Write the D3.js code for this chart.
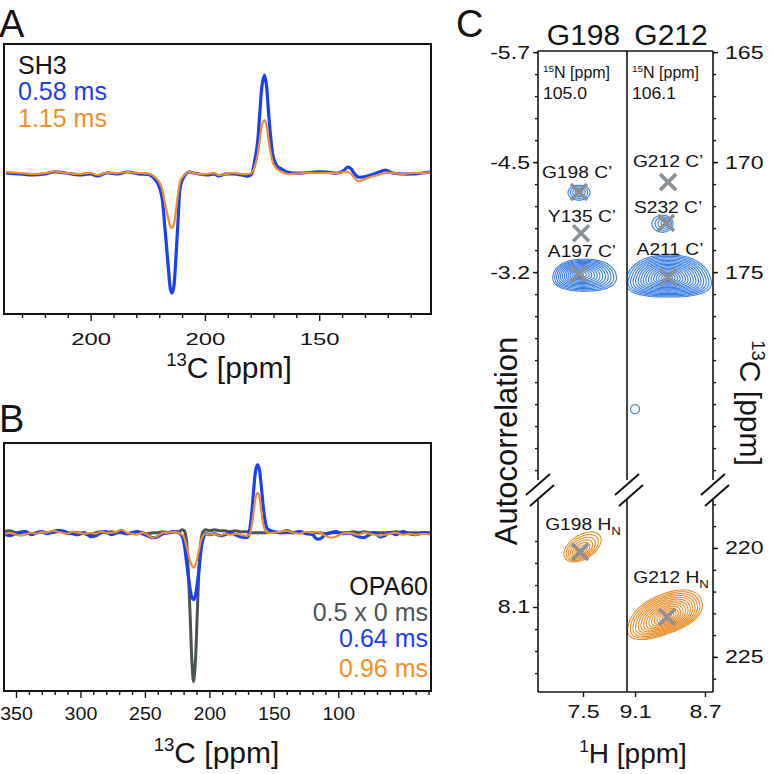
<!DOCTYPE html>
<html><head><meta charset="utf-8">
<script src="https://cdn.jsdelivr.net/npm/d3@7/dist/d3.min.js"></script>
<style>
html,body{margin:0;padding:0;background:#fff;}
svg text{font-family:"Liberation Sans",Arial,Helvetica,sans-serif;}
</style></head><body>
<svg id="fig" width="773" height="774"></svg>
<script>
// ================= DATA =================
// ---- Panel A (SH3) : 13C ppm grid and intensities ----
const aPpm = [287,281,275,270,266,261,255,250,247,243,
  238,234,229,224,221,219,217.5,216,215,214.4,
  213.7,212.7,211.7,210.6,209,207,205,202.6,199,196,
  194,191,187,184,181,179.6,178.4,177,176,175,
  174,173.2,172.3,171.2,170,168.5,166.5,164,162,157,
  152,147,142,139.5,137.5,136,134.5,133,131,129,
  126,122.5,121,118,114,109,105,101];
const aBlue = [0.00,-0.01,-0.02,-0.01,0.01,0.00,-0.02,-0.01,-0.03,0.00,
  -0.01,0.01,-0.01,-0.02,-0.09,-0.22,-0.55,-0.95,-1.17,-1.20,
  -1.15,-0.85,-0.45,-0.12,-0.03,0.01,0.00,-0.01,-0.02,-0.01,
  -0.03,-0.01,-0.01,-0.02,-0.03,-0.01,0.10,0.30,0.60,0.88,
  0.98,0.90,0.65,0.35,0.15,0.07,0.04,0.01,0.00,0.00,
  0.01,0.01,0.00,0.02,0.06,0.04,-0.01,-0.04,-0.04,-0.03,
  -0.01,0.02,0.03,0.00,-0.01,-0.01,0.00,0.01];
const aOrange = [0.01,0.00,-0.01,0.00,0.015,0.00,-0.01,0.00,-0.02,0.00,
  0.00,0.01,0.00,-0.01,-0.06,-0.14,-0.30,-0.46,-0.54,-0.55,
  -0.52,-0.38,-0.20,-0.07,-0.02,0.01,0.00,-0.01,-0.01,0.00,
  -0.02,-0.01,0.00,-0.01,-0.01,0.00,0.05,0.17,0.33,0.48,
  0.53,0.49,0.36,0.20,0.09,0.04,0.01,-0.01,-0.01,0.00,
  0.00,0.00,0.00,0.01,0.01,-0.01,-0.05,-0.08,-0.07,-0.05,
  -0.03,-0.01,0.00,0.00,-0.01,0.00,0.00,0.01];
const aTickValues = [250, 200, 150];
const aTickLabels = ["200", "200", "150"];
const aMinorTicks = [280,270,260,240,230,220,210,190,180,170,160,140,130,120,110];
const aLegend = ["SH3", "0.58 ms", "1.15 ms"];

// ---- Panel B (OPA60) ----
const bPpm = [360,355,350,346,343,338,334,330,326,322,
  318,314,310,306,302,297,292,288,284,280,
  276,272,268,264,260,256,252,248,244,240,
  236,232,228,224,221,219.5,218,216.5,215,213.5,
  212.3,211,209.5,208,206.5,205,203,200,196,192,
  188,184,180,176,172,170,168.5,167,165.5,164,
  162.6,161.2,160,158.5,157,155,150,145,140,135,
  130,125,120,117,114,110,106,102,97,92,
  88,84,80,76,72,68,64,60,55,50,
  45,40,34,28];
const bGray = [0.01,0.02,0.00,0.01,0.01,-0.01,0.00,0.01,0.00,0.00,
  0.01,0.01,-0.01,0.00,0.00,-0.01,-0.02,0.00,0.01,0.00,
  0.01,0.00,0.00,-0.01,0.00,0.01,0.00,-0.01,0.00,0.00,
  0.01,0.00,0.01,0.01,0.03,0.02,-0.05,-0.35,-0.80,-1.30,
  -1.49,-1.32,-0.85,-0.35,-0.08,0.01,0.03,0.02,0.03,0.02,
  0.02,0.01,0.02,0.01,0.01,0.01,0.00,0.00,0.00,0.00,
  0.00,0.00,0.00,0.00,0.00,0.00,0.01,0.00,0.00,0.00,
  0.01,0.00,0.00,0.00,0.00,-0.01,0.00,0.00,0.00,0.00,
  0.01,0.00,0.01,0.00,0.00,0.00,0.00,0.00,0.01,0.00,
  0.00,0.00,0.00,0.00];
const bBlue = [-0.01,-0.03,-0.01,0.00,0.01,-0.02,0.00,0.01,-0.01,0.01,
  0.02,0.02,0.00,-0.01,-0.02,0.00,-0.04,-0.03,0.00,0.01,
  -0.02,0.00,0.01,-0.01,0.00,0.01,-0.01,-0.03,-0.05,-0.04,
  -0.01,0.00,0.01,0.00,-0.04,-0.12,-0.26,-0.42,-0.56,-0.65,
  -0.67,-0.64,-0.52,-0.36,-0.18,-0.07,-0.01,-0.02,-0.01,-0.03,
  -0.02,0.00,-0.02,-0.04,-0.05,-0.04,0.05,0.22,0.45,0.63,
  0.68,0.63,0.50,0.30,0.14,0.04,0.01,0.00,0.02,0.00,
  0.01,-0.01,-0.02,-0.06,-0.06,-0.02,0.00,0.01,-0.01,0.00,
  -0.02,-0.04,-0.05,-0.02,0.00,-0.04,-0.03,0.00,-0.02,0.01,
  -0.01,-0.02,0.00,-0.01];
const bOrange = [-0.02,0.00,-0.02,-0.03,-0.02,0.00,-0.01,0.01,0.00,0.02,
  0.01,0.00,-0.01,0.01,0.00,-0.01,0.00,-0.01,0.01,0.00,
  0.00,0.01,0.03,0.00,-0.01,-0.02,0.00,-0.02,-0.05,-0.03,
  0.00,0.00,0.01,0.00,-0.02,-0.05,-0.12,-0.20,-0.28,-0.33,
  -0.35,-0.33,-0.26,-0.17,-0.08,-0.03,-0.01,-0.02,-0.01,-0.03,
  -0.01,-0.02,-0.01,-0.02,-0.03,-0.03,-0.01,0.08,0.22,0.36,
  0.40,0.36,0.24,0.10,0.03,0.00,0.00,0.01,0.02,0.00,
  -0.01,0.01,0.00,0.01,0.00,-0.03,-0.05,-0.04,-0.01,0.00,
  -0.01,-0.02,0.00,-0.01,-0.02,-0.03,-0.02,-0.01,0.00,-0.02,
  -0.01,-0.02,-0.01,-0.02];
const bTickValues = [350,300,250,200,150,100];
const bTickLabels = ["350","300","250","200","150","100"];
const bMinorTicks = [340,330,320,310,290,280,270,260,240,230,220,210,190,180,170,160,140,130,120,110,90,80,70,60,50,40,30];
const bLegend = ["OPA60", "0.5 x 0 ms", "0.64 ms", "0.96 ms"];

// ---- Panel C ----
const cResidues = ["G198", "G212"];
const cN15 = ["105.0", "106.1"];
const cH1Ticks = [[7.5], [9.1, 8.7]];
const cH1TickLabels = [["7.5"], ["9.1", "8.7"]];
const cUpperMinor = [165,166,167,168,169,170,171,172,173,174,175,176,177,178,179,180,181,182,183,184];
const cUpperMajor = [165, 170, 175];
const cUpperLeftLabels = ["-5.7", "-4.5", "-3.2"];
const cUpperRightLabels = ["165", "170", "175"];
const cLowerMinor = [218,219,220,221,222,223,224,225,226];
const cLowerMajor = [220, 225];
const cLowerRightLabels = ["220", "225"];
const cLowerLeftMinor = [7.8, 7.9, 8.0, 8.2, 8.3, 8.4];
const cLowerLeftMajor = [8.1];
const cLowerLeftLabels = ["8.1"];
// peak markers (1H ppm, 13C ppm)
const crossPanel = [0,0,0,1,1,1,0,1];
const crossSection = ["u","u","u","u","u","u","l","l"];
const crossH = [7.523,7.511,7.523,8.911,8.923,8.911,7.517,8.917];
const crossC = [171.36,173.23,175.09,170.91,172.77,175.23,220.18,223.17];
const crossText = ["G198 C\u2019","Y135 C\u2019","A197 C\u2019","G212 C\u2019","S232 C\u2019","A211 C\u2019","G198 H","G212 H"];
const crossSub = ["","","","","","","N","N"];
const labelH = [7.534,7.506,7.506,8.911,8.911,8.900,7.500,8.894];
const labelC = [170.73,172.73,174.32,170.23,172.32,174.23,219.17,221.60];
// contour peaks
const cntPanel = [0,1,0,1,1,0,1];
const cntSection = ["u","u","u","u","u","l","l"];
const cntH  = [7.523,8.923,7.523,8.911,9.100,7.517,8.917];
const cntC  = [171.36,172.77,175.09,175.23,181.23,220.18,223.17];
const cntOH = [7.523,8.943,7.491,8.909,9.100,7.503,8.929];
const cntOC = [171.39,172.80,175.14,175.18,181.23,219.95,223.03];
const cntRH = [0.063,0.060,0.180,0.237,0.0257,0.106,0.211];
const cntRC = [0.34,0.386,0.727,0.955,0.2045,0.61,0.95];
const cntShear = [0,0,0,0,0,3.0,2.6];
const cntTaper = [0,0,0.1,0.2,0,0,0.12];
const cntExp = [2,2,2.3,2.5,2,2,2.3];
const cntLevels = [4,4,13,16,1,7,14];
const cntInner = [0.35,0.35,0.12,0.10,1,0.2,0.12];

// ================= DRAWING =================
const FONT = '"Liberation Sans", Arial, Helvetica, sans-serif';
const INK = "#141414";
const BLUE = "#1c3ef4", ORANGE = "#ef8f2b", GRAY = "#4c5555";
const CBLUE = "#3d7ee6", CORANGE = "#e98d28", XGRAY = "#8a9095";

const svg = d3.select("#fig");
const defs = svg.append("defs");
function clip(id, x, y, w, h) {
  defs.append("clipPath").attr("id", id).append("rect")
    .attr("x", x).attr("y", y).attr("width", w).attr("height", h);
  return `url(#${id})`;
}
function drawAxis(g, axisGen, values, labels, size, pad, fs, sx) {
  g.call(axisGen.tickValues(values).tickSize(size).tickPadding(pad)
    .tickFormat((d, i) => labels ? labels[i] : ""));
  g.attr("font-family", FONT).attr("font-size", fs);
  g.select(".domain").remove();
  g.selectAll(".tick line").attr("stroke", INK).attr("stroke-width", 1.4);
  g.selectAll(".tick text").attr("fill", INK).each(function () {
    const t = d3.select(this);
    const x = +(t.attr("x") || 0);
    t.attr("x", x / sx).attr("transform", `scale(${sx},1)`);
  });
}
function supText(t, sup, main, fs) {
  t.append("tspan").attr("font-size", fs * 0.62).attr("dy", -fs * 0.4).text(sup);
  t.append("tspan").attr("font-size", fs).attr("dy", fs * 0.4).text(main);
}
function text(x, y, s, fs, fill, anchor) {
  return svg.append("text").attr("x", x).attr("y", y).attr("font-size", fs)
    .attr("fill", fill || INK).attr("text-anchor", anchor || "start").text(s);
}

// ---------- Panel A ----------
const A = {x0: 4, x1: 431, y0: 44, y1: 314};
const xA = d3.scaleLinear().domain([287.9, 101.1]).range([A.x0, A.x1]);
const yA = d3.scaleLinear().domain([1.29, -1.41]).range([A.y0, A.y1]);
const gA = svg.append("g").attr("clip-path", clip("clipA", A.x0, A.y0, A.x1 - A.x0, A.y1 - A.y0));
const lineA = d3.line().x((d, i) => xA(aPpm[i])).y(d => yA(d)).curve(d3.curveCatmullRom.alpha(0.5));
gA.append("path").attr("d", lineA(aBlue)).attr("fill", "none").attr("stroke", BLUE).attr("stroke-width", 3.2).attr("stroke-linejoin", "round");
gA.append("path").attr("d", lineA(aOrange)).attr("fill", "none").attr("stroke", ORANGE).attr("stroke-width", 2.2).attr("stroke-linejoin", "round");
svg.append("rect").attr("x", A.x0).attr("y", A.y0).attr("width", A.x1 - A.x0).attr("height", A.y1 - A.y0)
  .attr("fill", "none").attr("stroke", INK).attr("stroke-width", 2);
drawAxis(svg.append("g").attr("transform", `translate(0,${A.y1})`), d3.axisBottom(xA), aMinorTicks, null, 4, 3, 16.5, 1);
drawAxis(svg.append("g").attr("transform", `translate(0,${A.y1})`), d3.axisBottom(xA), aTickValues, aTickLabels, 7, 12.3, 16.5, 1.45);
supText(text(229, 378, "", 30, INK, "middle"), "13", "C [ppm]", 30);
text(-1, 37, "A", 38);
[INK, BLUE, ORANGE].forEach((c, i) => text(18, [74, 100, 127][i], aLegend[i], 25, c));

// ---------- Panel B ----------
const B = {x0: 4, x1: 431, y0: 443, y1: 691};
const xB = d3.scaleLinear().domain([359.3, 28.1]).range([B.x0, B.x1]);
const yB = d3.scaleLinear().domain([0.897, -1.583]).range([B.y0, B.y1]);
const gB = svg.append("g").attr("clip-path", clip("clipB", B.x0, B.y0, B.x1 - B.x0, B.y1 - B.y0));
const lineB = d3.line().x((d, i) => xB(bPpm[i])).y(d => yB(d)).curve(d3.curveCatmullRom.alpha(0.5));
[[bGray, GRAY, 3.0], [bBlue, BLUE, 3.2], [bOrange, ORANGE, 2.1]].forEach(([s, c, w]) =>
  gB.append("path").attr("d", lineB(s)).attr("fill", "none").attr("stroke", c).attr("stroke-width", w).attr("stroke-linejoin", "round"));
svg.append("rect").attr("x", B.x0).attr("y", B.y0).attr("width", B.x1 - B.x0).attr("height", B.y1 - B.y0)
  .attr("fill", "none").attr("stroke", INK).attr("stroke-width", 2);
drawAxis(svg.append("g").attr("transform", `translate(0,${B.y1})`), d3.axisBottom(xB), bMinorTicks, null, 4, 3, 18, 1);
drawAxis(svg.append("g").attr("transform", `translate(0,${B.y1})`), d3.axisBottom(xB), bTickValues, bTickLabels, 7, 9.6, 17.5, 1.12);
supText(text(216.5, 763, "", 30, INK, "middle"), "13", "C [ppm]", 30);
text(-1, 432, "B", 38);
[INK, GRAY, BLUE, ORANGE].forEach((c, i) => text(428, [595, 621, 647, 677][i], bLegend[i], 25, c, "end"));

// ---------- Panel C ----------
const CX = [538, 627, 713];
const CY = {top: 51, upBot: 478, lowTop: 502, bot: 692};
const yS = {
  u: d3.scaleLinear().domain([164.95, 184.36]).range([CY.top, CY.upBot]),
  l: d3.scaleLinear().domain([217.89, 226.61]).range([CY.lowTop, CY.bot])
};
const yLowLeft = d3.scaleLinear().domain([7.623, 8.486]).range([CY.lowTop, CY.bot]);
const xS = [
  d3.scaleLinear().domain([7.757, 7.249]).range([CX[0], CX[1]]),
  d3.scaleLinear().domain([9.146, 8.654]).range([CX[1], CX[2]])
];
const clips = {};
[0, 1].forEach(p => ["u", "l"].forEach(s => {
  const r = yS[s].range();
  clips[p + s] = clip("clipC" + p + s, CX[p], r[0], CX[p + 1] - CX[p], r[1] - r[0]);
}));

// contours
cntPanel.forEach((p, i) => {
  const s = cntSection[i], x = xS[p], y = yS[s];
  const g = svg.append("g").attr("clip-path", clips[p + s]);
  const n = cntLevels[i];
  for (let k = 0; k < n; k++) {
    const f = n > 1 ? 1 - k * (1 - cntInner[i]) / (n - 1) : 1;
    const cH = cntH[i] + (cntOH[i] - cntH[i]) * f;
    const cC = cntC[i] + (cntOC[i] - cntC[i]) * f;
    const rH = cntRH[i] * f, rC = cntRC[i] * f, e = 2 / cntExp[i];
    const pts = d3.range(96).map(j => {
      const t = j / 96 * 2 * Math.PI, c = Math.cos(t), sn = Math.sin(t);
      const ce = Math.sign(c) * Math.pow(Math.abs(c), e);
      const se = Math.sign(sn) * Math.pow(Math.abs(sn), e);
      const dH = rH * ce * (1 + cntTaper[i] * se);
      const dC = rC * se + cntShear[i] * dH;
      return [x(cH + dH), y(cC + dC)];
    });
    g.append("path").attr("d", d3.line().curve(d3.curveCardinalClosed)(pts))
      .attr("fill", "none").attr("stroke", s === "u" ? CBLUE : CORANGE).attr("stroke-width", 1.1);
  }
});
// crosses
crossPanel.forEach((p, i) => {
  const cx = xS[p](crossH[i]), cy = yS[crossSection[i]](crossC[i]);
  svg.append("path").attr("d", `M${cx - 8},${cy - 8}L${cx + 8},${cy + 8}M${cx - 8},${cy + 8}L${cx + 8},${cy - 8}`)
    .attr("stroke", XGRAY).attr("stroke-width", 3.6).attr("fill", "none");
});
// peak labels
crossPanel.forEach((p, i) => {
  const lx = xS[p](labelH[i]), ly = yS[crossSection[i]](labelC[i]);
  const t = svg.append("text").attr("transform", `translate(${lx},${ly}) scale(1.2,1)`)
    .attr("font-size", 16).attr("fill", INK).attr("text-anchor", "middle");
  t.append("tspan").text(crossText[i]);
  if (crossSub[i]) t.append("tspan").attr("font-size", 11).attr("dy", 5).text(crossSub[i]);
});
// frame lines
const frame = svg.append("g").attr("stroke", INK).attr("stroke-width", 1.6).attr("fill", "none");
CX.forEach(x => {
  frame.append("line").attr("x1", x).attr("x2", x).attr("y1", CY.top).attr("y2", CY.upBot + 2);
  frame.append("line").attr("x1", x).attr("x2", x).attr("y1", CY.lowTop - 2).attr("y2", CY.bot);
  frame.append("line").attr("x1", x - 12).attr("y1", 495).attr("x2", x + 12).attr("y2", 474).attr("stroke-width", 2);
  frame.append("line").attr("x1", x - 8).attr("y1", 506).attr("x2", x + 16).attr("y2", 485).attr("stroke-width", 2);
});
frame.append("line").attr("x1", CX[0]).attr("x2", CX[2]).attr("y1", CY.top).attr("y2", CY.top);
frame.append("line").attr("x1", CX[0]).attr("x2", CX[2]).attr("y1", CY.bot).attr("y2", CY.bot);
// axes
const at = (x, y) => svg.append("g").attr("transform", `translate(${x},${y})`);
drawAxis(at(CX[0], 0), d3.axisLeft(yS.u), cUpperMinor, null, 3, 2, 18.5, 1);
drawAxis(at(CX[0], 0), d3.axisLeft(yS.u), cUpperMajor, cUpperLeftLabels, 5, 3, 18.5, 1.25);
drawAxis(at(CX[2], 0), d3.axisRight(yS.u), cUpperMinor, null, 3, 2, 18.5, 1);
drawAxis(at(CX[2], 0), d3.axisRight(yS.u), cUpperMajor, cUpperRightLabels, 5, 7, 18.5, 1.25);
drawAxis(at(CX[0], 0), d3.axisLeft(yLowLeft), cLowerLeftMinor, null, 3, 2, 18.5, 1);
drawAxis(at(CX[0], 0), d3.axisLeft(yLowLeft), cLowerLeftMajor, cLowerLeftLabels, 5, 3, 18.5, 1.25);
drawAxis(at(CX[2], 0), d3.axisRight(yS.l), cLowerMinor, null, 3, 2, 18.5, 1);
drawAxis(at(CX[2], 0), d3.axisRight(yS.l), cLowerMajor, cLowerRightLabels, 5, 7, 18.5, 1.25);
[0, 1].forEach(p => drawAxis(at(0, CY.bot), d3.axisBottom(xS[p]), cH1Ticks[p], cH1TickLabels[p], 5, 7.9, 18.5, 1.25));
// headers and N15 labels
[0, 1].forEach(p => {
  const cx = (CX[p] + CX[p + 1]) / 2;
  text(cx + 1, 45, cResidues[p], 30, INK, "middle");
  supText(text(CX[p] + 5, 78, "", 16), "15", "N [ppm]", 16);
  svg.append("text").attr("transform", `translate(${CX[p] + 5},99) scale(1.1,1)`).attr("font-size", 16).attr("fill", INK).text(cN15[p]);
});
text(456, 37, "C", 38);
svg.append("text").attr("transform", "translate(517,441) rotate(-90)").attr("font-size", 31)
  .attr("fill", INK).attr("text-anchor", "middle").text("Autocorrelation");
supText(svg.append("text").attr("transform", "translate(740,403) rotate(90)").attr("font-size", 30)
  .attr("fill", INK).attr("text-anchor", "middle"), "13", "C [ppm]", 30);
supText(text(633, 763, "", 28, INK, "middle"), "1", "H [ppm]", 28);
</script>
</body></html>
